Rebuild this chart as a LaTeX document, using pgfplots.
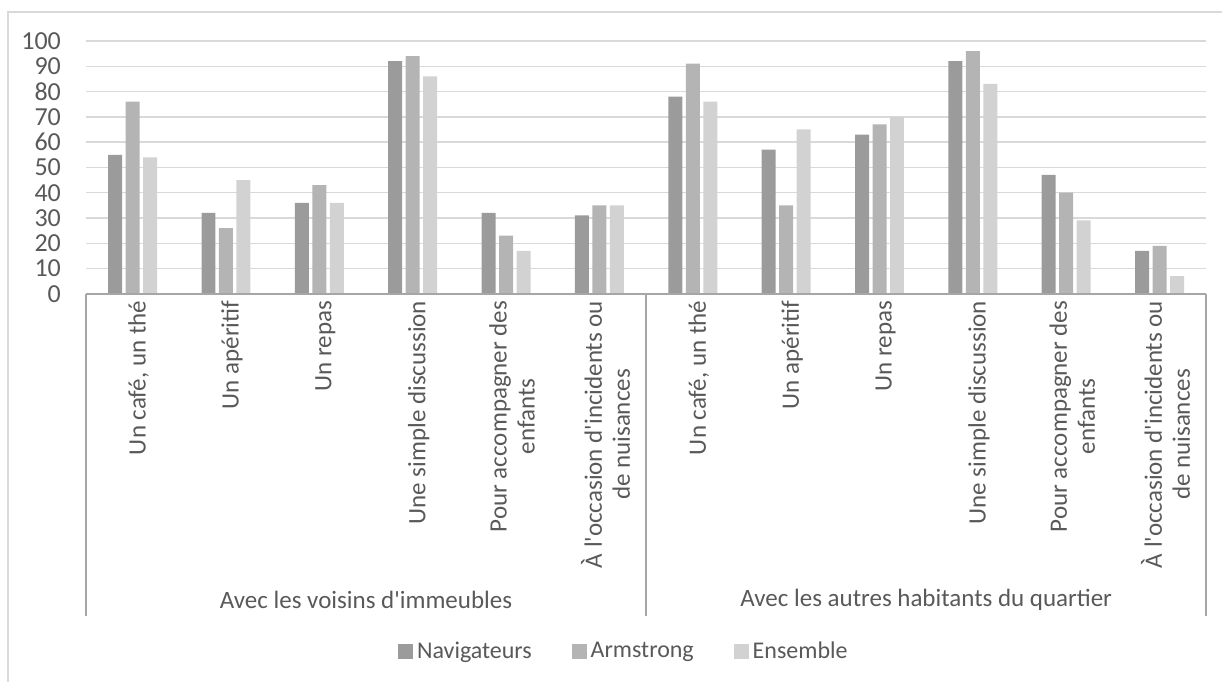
\documentclass[border=0pt]{standalone}
\usepackage{pgfplots}
\pgfplotsset{compat=1.18}
\usepackage{fontspec}
\setmainfont{Carlito}[Ligatures=TeXOff]
\definecolor{txt}{HTML}{595959}
\definecolor{cA}{HTML}{9B9B9B}
\definecolor{cB}{HTML}{B4B4B4}
\definecolor{cC}{HTML}{D2D2D2}
\definecolor{gridc}{HTML}{D9D9D9}
\definecolor{axl}{HTML}{A6A6A6}
\begin{document}
\begin{tikzpicture}
\begin{axis}[
  scale only axis,
  width=560.5pt, height=126.5pt,
  xmin=-0.5, xmax=11.5, ymin=0, ymax=100,
  ybar=1.75pt, bar width=7pt,
  clip=false,
  axis line style={draw=none},
  major tick length=0pt,
  ytick={0,10,...,100},
  ymajorgrids, xmajorgrids=false, grid style={color=gridc, line width=0.75pt},
  xtick={0,...,11},
  xticklabels={{Un café, un thé}, {Un apéritif}, {Un repas}, {Une simple discussion}, {Pour accompagner des\\enfants}, {À l'occasion d'incidents ou\\de nuisances},
  {Un café, un thé}, {Un apéritif}, {Un repas}, {Une simple discussion}, {Pour accompagner des\\enfants}, {À l'occasion d'incidents ou\\de nuisances}},
  xticklabel style={rotate=90, anchor=east, align=center, font=\fontsize{12.5}{14}\selectfont, text=txt, yshift=-3pt},
  yticklabel style={font=\fontsize{13}{15}\selectfont, text=txt, xshift=-9pt},
  /pgf/number format/assume math mode=true,
  legend style={draw=none, legend columns=-1, at={(rel axis cs:0.481,-1.415)}, anchor=center,
    font=\fontsize{12}{14}\selectfont, text=txt,
    /tikz/every even column/.append style={column sep=18pt},
    nodes={inner sep=2pt}},
  legend image code/.code={\path[#1] (0pt,-3.75pt) rectangle (7.5pt,3.75pt);},
]
\addplot[fill=cA, draw=none] coordinates {(0,55) (1,32) (2,36) (3,92) (4,32) (5,31) (6,78) (7,57) (8,63) (9,92) (10,47) (11,17)};
\addplot[fill=cB, draw=none] coordinates {(0,76) (1,26) (2,43) (3,94) (4,23) (5,35) (6,91) (7,35) (8,67) (9,96) (10,40) (11,19)};
\addplot[fill=cC, draw=none] coordinates {(0,54) (1,45) (2,36) (3,86) (4,17) (5,35) (6,76) (7,65) (8,70) (9,83) (10,29) (11,7)};
\legend{Navigateurs, Armstrong, Ensemble}
\draw[axl, line width=1pt] (rel axis cs:0,0) -- (rel axis cs:1,0);
\draw[axl, line width=1pt] (rel axis cs:0,0) -- ([yshift=-161pt]rel axis cs:0,0);
\draw[axl, line width=1pt] (rel axis cs:0.5,0) -- ([yshift=-161pt]rel axis cs:0.5,0);
\draw[axl, line width=1pt] (rel axis cs:1,0) -- ([yshift=-161pt]rel axis cs:1,0);
\node[text=txt, font=\fontsize{12.5}{14}\selectfont] at ([yshift=-153pt]rel axis cs:0.25,0) {Avec les voisins d'immeubles};
\node[text=txt, font=\fontsize{12.5}{14}\selectfont] at ([yshift=-153pt]rel axis cs:0.75,0) {Avec les autres habitants du quartier};
\coordinate (O) at (rel axis cs:0,0);
\end{axis}
\path ([shift={(-43pt,-194pt)}]O) rectangle ([shift={(568.5pt,147pt)}]O);
\draw[gridc, line width=0.75pt] ([shift={(-39pt,-194pt)}]O) -- ([shift={(-39pt,141pt)}]O) -- ([shift={(568.5pt,141pt)}]O);
\end{tikzpicture}
\end{document}
